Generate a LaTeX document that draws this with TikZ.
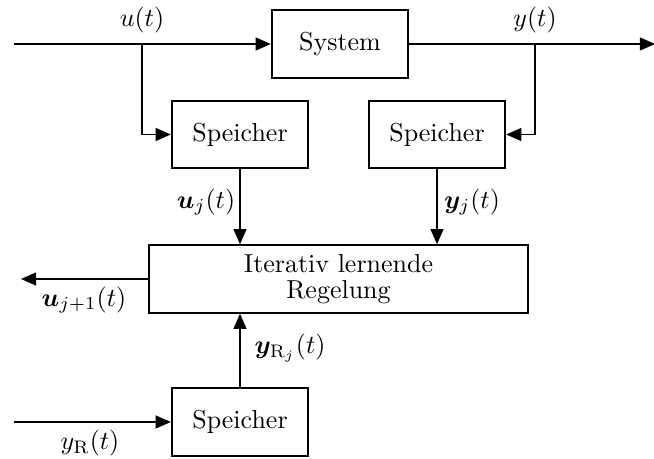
\documentclass[tikz,border=0pt]{standalone}
\usepackage{amsmath,bm}
\usetikzlibrary{arrows.meta}
\begin{document}
\begin{tikzpicture}[x=0.385pt,y=-0.385pt,
  blk/.style={draw,line width=0.8pt,inner sep=0pt,minimum width=52.5pt,minimum height=26pt,align=center},
  sig/.style={line width=0.4pt,-{Triangle[length=5.8pt,width=5pt]}},
  lbl/.style={inner sep=1pt}]
\useasboundingbox (0,0) rectangle (654,459);
\node[blk] (sys) at (340,44) {System};
\node[blk] (sp1) at (240,134.5) {Speicher};
\node[blk] (sp2) at (437,134.5) {Speicher};
\node[blk,minimum width=146pt] (ilr) at (338.5,279) {Iterativ lernende\\[-2pt]Regelung};
\node[blk] (sp3) at (240,422) {Speicher};
\coordinate (uin) at (14,44);
\coordinate (ub) at (142,44);
\coordinate (yb) at (535,44);
\coordinate (yout) at (655,44);
\coordinate (uout) at (21,279);
\coordinate (yrin) at (14,422);
\draw[sig] (uin) -- (sys.west);
\draw[sig] (sys.east) -- (yout);
\draw[sig] (ub) |- (sp1.west);
\draw[sig] (yb) |- (sp2.east);
\draw[sig] (sp1.south) -- (sp1.south |- ilr.north);
\draw[sig] (sp2.south) -- (sp2.south |- ilr.north);
\draw[sig] (ilr.west) -- (uout);
\draw[sig] (sp3.north) -- (sp3.north |- ilr.south);
\draw[sig] (yrin) -- (sp3.west);
\node[lbl] (lu) at (142,20) {$u(t)$};
\node[lbl] (ly) at (535,20) {$y(t)$};
\node[lbl] (luj) at (206,202) {$\bm{u}_j(t)$};
\node[lbl] (lyj) at (472,202) {$\bm{y}_j(t)$};
\node[lbl] (lu1) at (84,300) {$\bm{u}_{j+1}(t)$};
\node[lbl] (lyrj) at (290,348) {$\bm{y}_{\mathrm{R}_j}(t)$};
\node[lbl] (lyr) at (90,443) {$y_{\mathrm{R}}(t)$};
\end{tikzpicture}
\end{document}
